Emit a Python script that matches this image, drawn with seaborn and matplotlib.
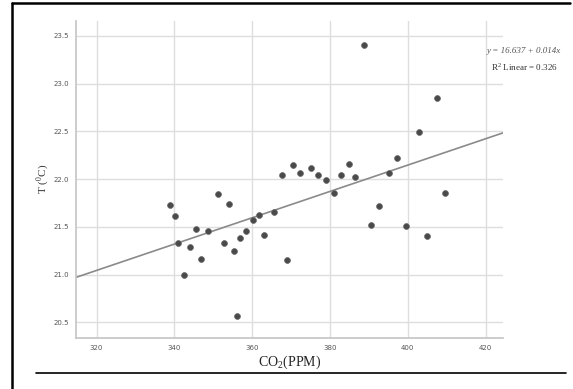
import numpy as np
import pandas as pd
import seaborn as sns
import matplotlib
matplotlib.use("Agg")
import matplotlib.pyplot as plt
from matplotlib.lines import Line2D

co2 = [338.9, 340.1, 340.85, 342.5, 344.1, 345.6, 346.9, 348.7, 351.2, 352.8,
       354.05, 355.3, 356.1, 356.8, 358.35, 360.15, 361.85, 363.0, 365.6, 367.7,
       368.9, 370.45, 372.3, 375.1, 376.96, 378.9, 381.0, 382.8, 384.9, 386.5,
       388.7, 390.5, 392.6, 395.3, 397.2, 399.5, 403.0, 405.0, 407.5, 409.6]
temp = [21.73, 21.61, 21.33, 21.00, 21.29, 21.48, 21.16, 21.46, 21.85, 21.33,
        21.74, 21.25, 20.57, 21.38, 21.46, 21.57, 21.62, 21.42, 21.66, 22.04,
        21.15, 22.15, 22.07, 22.12, 22.04, 21.99, 21.86, 22.04, 22.16, 22.02,
        23.41, 21.52, 21.72, 22.06, 22.22, 21.51, 22.49, 21.41, 22.85, 21.86]
x_ticks = [320, 340, 360, 380, 400, 420]
y_ticks = [20.5, 21.0, 21.5, 22.0, 22.5, 23.0, 23.5]
equation = "y = 16.637 + 0.014x"
r2_text = "R$^{\\mathregular{2}}$ Linear = 0.326"

df = pd.DataFrame({"CO2": co2, "T": temp})

sns.set_style("white")
plt.rcParams['font.family'] = ['Liberation Serif', 'DejaVu Serif']
plt.rcParams['mathtext.fontset'] = 'custom'
plt.rcParams['mathtext.rm'] = 'Liberation Serif'

fig = plt.figure(figsize=(5.73, 3.89), dpi=100)
ax = fig.add_axes([0.1326, 0.1319, 0.8773 - 0.1326, 0.9468 - 0.1319])

ax.set_xlim(314.7, 424.4)
ax.set_ylim(20.34, 23.66)
ax.set_xticks(x_ticks)
ax.set_yticks(y_ticks)
ax.grid(True, color="#dedede", linewidth=1.0)
ax.set_axisbelow(True)

sns.regplot(data=df, x="CO2", y="T", ax=ax, ci=None, truncate=False,
            scatter_kws=dict(s=18, color="#4a4a4a", edgecolor="#6a6a6a",
                             linewidths=0.5, alpha=1, zorder=3),
            line_kws=dict(color="#8a8a8a", linewidth=1.2, zorder=2))

for s in ["top", "right"]:
    ax.spines[s].set_visible(False)
for s in ["left", "bottom"]:
    ax.spines[s].set_color("#c4c4c4")
    ax.spines[s].set_linewidth(1.2)

ax.tick_params(axis="both", length=0, labelsize=5, labelcolor="#555555", pad=5)
for lbl in ax.get_xticklabels() + ax.get_yticklabels():
    lbl.set_fontfamily("DejaVu Sans")

ax.set_xlabel("CO$_{\\mathregular{2}}$(PPM)", fontsize=10, color="#222222", labelpad=2)
ax.set_ylabel("T ($^{\\mathregular{0}}$C)", fontsize=8, color="#333333", labelpad=2)

fig.text(524 / 573, 1 - 50.7 / 389, equation, fontsize=6.5, style="italic",
         color="#555555", ha="center", va="center")
fig.text(524 / 573, 1 - 66.7 / 389, r2_text, fontsize=6.5,
         color="#333333", ha="center", va="center")

# outer frame lines from the source screenshot
fig.add_artist(Line2D([12 / 573, 570 / 573], [1 - 3 / 389, 1 - 3 / 389],
                      transform=fig.transFigure, color="black", linewidth=1.8))
fig.add_artist(Line2D([12 / 573, 12 / 573], [0, 1 - 3 / 389],
                      transform=fig.transFigure, color="black", linewidth=1.8))
fig.add_artist(Line2D([36 / 573, 566 / 573], [1 - 372.7 / 389, 1 - 372.7 / 389],
                      transform=fig.transFigure, color="black", linewidth=1.2))

fig.savefig("out.png", dpi=100, facecolor="white")
